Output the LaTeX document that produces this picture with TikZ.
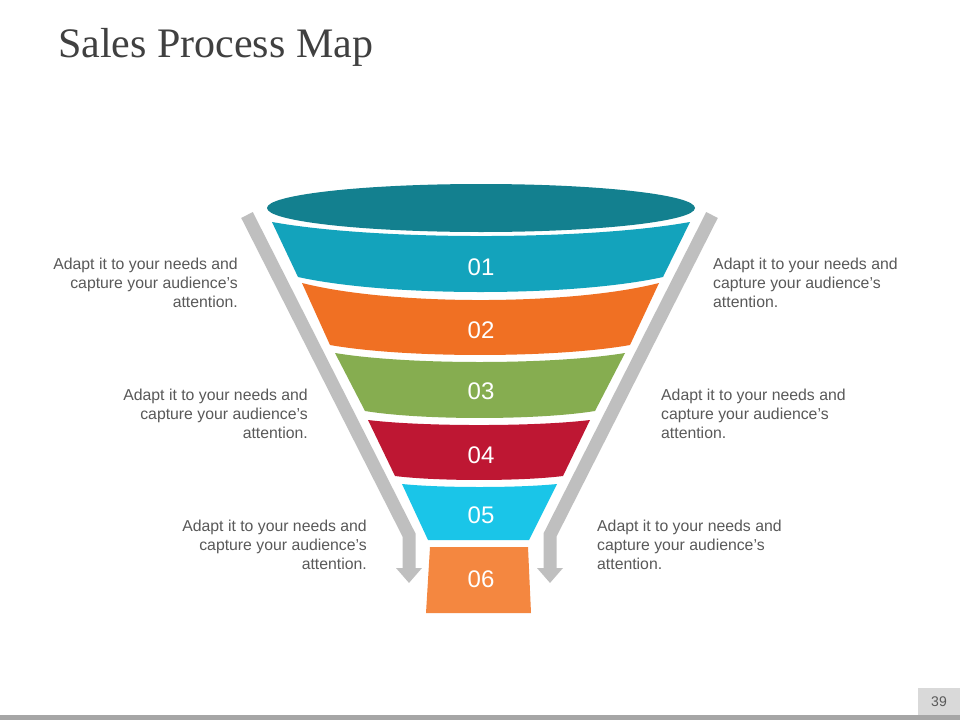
\documentclass[tikz,border=0pt]{standalone}
\usepackage{fontspec}
\setmainfont{Liberation Sans}
\newfontfamily\titlefont{Liberation Serif}
\usetikzlibrary{arrows.meta}
\definecolor{cE}{HTML}{13808F}
\definecolor{cA}{HTML}{13A3BC}
\definecolor{cB}{HTML}{F07023}
\definecolor{cC}{HTML}{86AD50}
\definecolor{cD}{HTML}{BE1733}
\definecolor{cF}{HTML}{1AC5E8}
\definecolor{cG}{HTML}{F48740}
\definecolor{txt}{HTML}{595959}
\definecolor{ttl}{HTML}{404040}
\definecolor{arr}{HTML}{BFBFBF}
\definecolor{bar}{HTML}{A6A6A6}
\definecolor{pgbox}{HTML}{D9D9D9}
\tikzset{
  num/.style={text=white,font=\fontsize{24}{24}\selectfont,inner sep=0pt},
  ltxt/.style={text=txt,font=\fontsize{15.8}{19}\selectfont,align=right,anchor=north east,inner sep=0pt},
  rtxt/.style={text=txt,font=\fontsize{15.8}{19}\selectfont,align=left,anchor=north west,inner sep=0pt},
  garrow/.style={draw=arr,line width=13pt,line join=miter,-{Triangle[length=15pt,width=25pt]}}
}
\begin{document}
\begin{tikzpicture}[x=1pt,y=-1pt]
\useasboundingbox[fill=white] (0,0) rectangle (960,720);
% title
\node[anchor=base west,inner sep=0pt,text=ttl,font=\titlefont\fontsize{42}{42}\selectfont] (title) at (58,57) {Sales Process Map};
% arrows
\coordinate (la1) at (247,215); \coordinate (la2) at (409,535); \coordinate (la3) at (409,583);
\coordinate (ra1) at (712,215); \coordinate (ra2) at (550,535); \coordinate (ra3) at (550,583);
\draw[garrow] (la1) -- (la2) -- (la3);
\draw[garrow] (ra1) -- (ra2) -- (ra3);
% funnel
\fill[cE] (481,208) ellipse [x radius=214, y radius=24];
\fill[cA] (272,222) .. controls (376,240.7) and (586,240.7) .. (690,222) -- (663,277) .. controls (572,297) and (389,297) .. (298,277) -- cycle;
\fill[cB] (302,283) .. controls (391,305.7) and (570,305.7) .. (659,283) -- (630,345) .. controls (555,358.3) and (405,358.3) .. (330,345) -- cycle;
\fill[cC] (335,353) .. controls (407,365) and (552,365) .. (625,353) -- (595,411) .. controls (537,420.3) and (422,420.3) .. (365,411) -- cycle;
\fill[cD] (368,420) .. controls (423,426.7) and (535,426.7) .. (590,420) -- (563,476) .. controls (521,481.3) and (437,481.3) .. (395,476) -- cycle;
\fill[cF] (402,484) .. controls (441,488) and (518,488) .. (557,484) -- (529,540) -- (428,540) -- cycle;
\fill[cG] (430,547) -- (528,547) -- (531,613) -- (426,613) -- cycle;
\node[num] (n1) at (481,267) {01};
\node[num] (n2) at (481,330) {02};
\node[num] (n3) at (481,391) {03};
\node[num] (n4) at (481,455) {04};
\node[num] (n5) at (481,515) {05};
\node[num] (n6) at (481,579) {06};
% texts
\node[ltxt] (t1) at (238,258) {Adapt it to your needs and\\capture your audience's\\attention.};
\node[ltxt] (t2) at (308,389) {Adapt it to your needs and\\capture your audience's\\attention.};
\node[ltxt] (t3) at (367,520) {Adapt it to your needs and\\capture your audience's\\attention.};
\node[rtxt] (t4) at (713,258) {Adapt it to your needs and\\capture your audience's\\attention.};
\node[rtxt] (t5) at (661,389) {Adapt it to your needs and\\capture your audience's\\attention.};
\node[rtxt] (t6) at (597,520) {Adapt it to your needs and\\capture your audience's\\attention.};
% footer
\fill[bar] (0,715) rectangle (960,720);
\fill[pgbox] (918,688) rectangle (960,715);
\node[text=txt,font=\fontsize{14}{14}\selectfont,inner sep=0pt] (pg) at (939,702) {39};
\end{tikzpicture}
\end{document}
